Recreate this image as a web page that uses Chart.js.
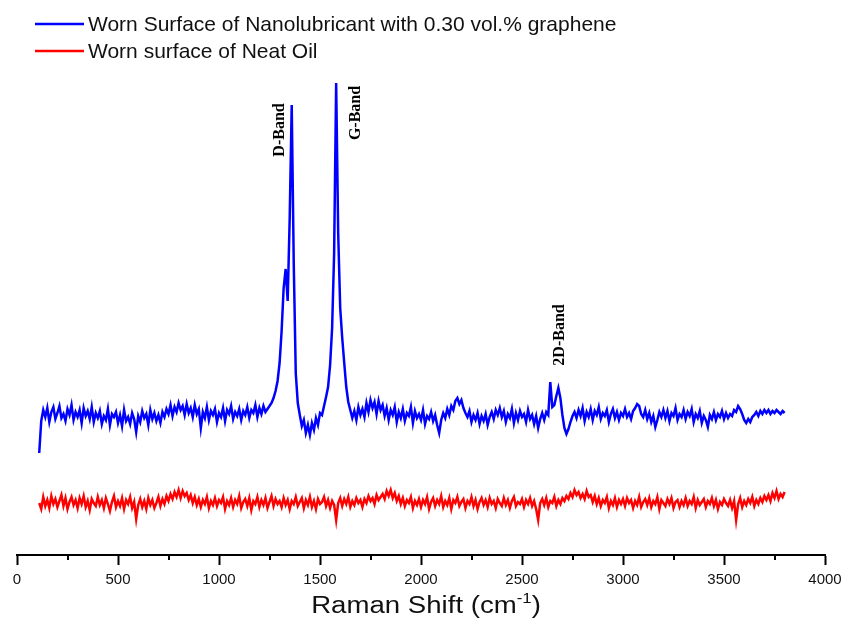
<!DOCTYPE html>
<html>
<head>
<meta charset="utf-8">
<title>Raman spectra</title>
<script src="https://cdn.jsdelivr.net/npm/chart.js@4.4.0/dist/chart.umd.min.js"></script>
<style>
  html, body { margin: 0; padding: 0; background: #fff; }
  canvas { display: block; }
</style>
</head>
<body>
<canvas id="raman" width="843" height="621"></canvas>
<script>
// series names (legend)
const seriesNames = [
  "Worn Surface of Nanolubricant with 0.30 vol.% graphene",
  "Worn surface of Neat Oil"
];
const seriesColors = ["#0000ff", "#ff0000"];

// x axis
const axisMin = 0;
const axisMax = 4000;
const majorStep = 500;
const minorTicks = [250, 750, 1250, 1750, 2250, 2750, 3250, 3750];
const axisTitle = "Raman Shift (cm";
const axisTitleSup = "-1";

// band annotations
const bandLabels = ["D-Band", "G-Band", "2D-Band"];
const bandShift = [1302, 1678, 2688];
const bandHeight = [423, 440, 218];

// Raman shift grid (cm-1) shared by both spectra
const ramanShift = [
  110, 120, 130, 140, 150, 160, 170, 180, 190, 200,
  210, 220, 230, 240, 250, 260, 270, 280, 290, 300,
  310, 320, 330, 340, 350, 360, 370, 380, 390, 400,
  410, 420, 430, 440, 450, 460, 470, 480, 490, 500,
  510, 520, 530, 540, 550, 560, 570, 580, 590, 600,
  610, 620, 630, 640, 650, 660, 670, 680, 690, 700,
  710, 720, 730, 740, 750, 760, 770, 780, 790, 800,
  810, 820, 830, 840, 850, 860, 870, 880, 890, 900,
  910, 920, 930, 940, 950, 960, 970, 980, 990, 1000,
  1010, 1020, 1030, 1040, 1050, 1060, 1070, 1080, 1090, 1100,
  1110, 1120, 1130, 1140, 1150, 1160, 1170, 1180, 1190, 1200,
  1210, 1220, 1230, 1240, 1250, 1260, 1270, 1280, 1290, 1300,
  1310, 1320, 1330, 1340, 1350, 1360, 1370, 1380, 1390, 1400,
  1410, 1420, 1430, 1440, 1450, 1460, 1470, 1480, 1490, 1500,
  1510, 1520, 1530, 1540, 1550, 1560, 1570, 1580, 1590, 1600,
  1610, 1620, 1630, 1640, 1650, 1660, 1670, 1680, 1690, 1700,
  1710, 1720, 1730, 1740, 1750, 1760, 1770, 1780, 1790, 1800,
  1810, 1820, 1830, 1840, 1850, 1860, 1870, 1880, 1890, 1900,
  1910, 1920, 1930, 1940, 1950, 1960, 1970, 1980, 1990, 2000,
  2010, 2020, 2030, 2040, 2050, 2060, 2070, 2080, 2090, 2100,
  2110, 2120, 2130, 2140, 2150, 2160, 2170, 2180, 2190, 2200,
  2210, 2220, 2230, 2240, 2250, 2260, 2270, 2280, 2290, 2300,
  2310, 2320, 2330, 2340, 2350, 2360, 2370, 2380, 2390, 2400,
  2410, 2420, 2430, 2440, 2450, 2460, 2470, 2480, 2490, 2500,
  2510, 2520, 2530, 2540, 2550, 2560, 2570, 2580, 2590, 2600,
  2610, 2620, 2630, 2640, 2650, 2660, 2670, 2680, 2690, 2700,
  2710, 2720, 2730, 2740, 2750, 2760, 2770, 2780, 2790, 2800,
  2810, 2820, 2830, 2840, 2850, 2860, 2870, 2880, 2890, 2900,
  2910, 2920, 2930, 2940, 2950, 2960, 2970, 2980, 2990, 3000,
  3010, 3020, 3030, 3040, 3050, 3060, 3070, 3080, 3090, 3100,
  3110, 3120, 3130, 3140, 3150, 3160, 3170, 3180, 3190, 3200,
  3210, 3220, 3230, 3240, 3250, 3260, 3270, 3280, 3290, 3300,
  3310, 3320, 3330, 3340, 3350, 3360, 3370, 3380, 3390, 3400,
  3410, 3420, 3430, 3440, 3450, 3460, 3470, 3480, 3490, 3500,
  3510, 3520, 3530, 3540, 3550, 3560, 3570, 3580, 3590, 3600,
  3610, 3620, 3630, 3640, 3650, 3660, 3670, 3680, 3690, 3700,
  3710, 3720, 3730, 3740, 3750, 3760, 3770, 3780, 3790, 3800
];

// worn surface with 0.30 vol.% graphene (arbitrary units)
const grapheneIntensity = [
  100, 132, 143, 136, 145, 131, 141, 146, 134, 140,
  147, 135, 139, 132, 144, 138, 148, 133, 141, 136,
  143, 130, 145, 137, 142, 134, 146, 131, 140, 135,
  142, 129, 137, 133, 144, 128, 139, 136, 141, 130,
  138, 127, 143, 132, 136, 129, 140, 134, 121, 137,
  131, 142, 135, 139, 128, 143, 134, 140, 132, 138,
  130, 141, 136, 144, 139, 148, 137, 146, 141, 150,
  143, 147, 138, 149, 140, 145, 136, 148, 139, 144,
  125, 141, 135, 146, 133, 142, 138, 144, 131, 140,
  136, 145, 132, 143, 139, 147, 134, 141, 137, 144,
  133, 142, 138, 146, 135, 143, 140, 148, 136, 145,
  139, 147, 141, 144, 147, 150, 155, 162, 172, 190,
  222, 265, 284, 252, 335, 448, 290, 180, 150, 138,
  127, 133, 120, 128, 118, 130, 123, 135, 128, 140,
  138, 147, 156, 166, 188, 225, 300, 470, 320, 245,
  215, 190, 166, 151, 143, 135, 142, 133, 146, 138,
  144, 136, 150, 141, 153, 145, 151, 139, 152, 143,
  148, 137, 145, 133, 143, 138, 146, 131, 141, 135,
  144, 132, 140, 137, 146, 130, 142, 135, 139, 133,
  143, 129, 137, 134, 141, 132, 138, 128, 120, 133,
  140, 135, 144, 138, 147, 143, 152, 155, 149, 153,
  145, 140, 136, 142, 131, 138, 133, 140, 129, 137,
  132, 139, 128, 136, 141, 134, 143, 138, 145, 136,
  142, 131, 139, 135, 144, 130, 140, 133, 142, 136,
  139, 131, 143, 134, 138, 129, 137, 125, 134, 140,
  133, 141, 138, 171, 146, 148, 157, 165, 155, 138,
  125, 119, 124, 131, 137, 141, 135, 143, 137, 145,
  132, 141, 136, 144, 133, 142, 138, 146, 134, 140,
  137, 143, 131, 139, 144, 135, 141, 133, 140, 137,
  144, 136, 140, 134, 142, 145, 149, 147, 139, 136,
  143, 134, 140, 131, 137, 126, 133, 141, 136, 143,
  135, 142, 132, 140, 137, 145, 133, 139, 136, 143,
  134, 141, 137, 144, 131, 139, 135, 142, 130, 137,
  133, 126, 138, 134, 141, 133, 139, 136, 142, 134,
  140, 135, 139, 137, 143, 141, 147, 144, 139, 133,
  130, 134, 131, 136, 138, 141, 137, 142, 139, 143,
  140, 143, 139, 142, 140, 143, 141, 139, 142, 140
];

// worn surface with neat oil
const neatOilIntensity = [
  50, 44, 56, 47, 53, 45, 57, 49, 54, 46,
  52, 58, 47, 55, 44, 51, 56, 48, 53, 45,
  55, 49, 57, 46, 52, 43, 54, 50, 47, 56,
  48, 53, 45, 55, 49, 42, 51, 57, 46, 52,
  47, 55, 44, 53, 49, 56, 45, 51, 34, 48,
  54, 46, 52, 44, 55, 48, 53, 45, 50, 56,
  47, 54, 49, 57, 52, 59, 54, 61, 56, 63,
  55, 62, 57, 60, 53, 58, 50, 56, 48, 54,
  46, 53, 49, 56, 45, 52, 48, 55, 47, 53,
  50, 56, 44, 52, 48, 55, 46, 53, 49, 57,
  45, 51, 54, 47, 55, 43, 52, 49, 56, 46,
  53, 48, 55, 45, 51, 57, 47, 54, 49, 52,
  46, 55, 48, 53, 44, 52, 49, 56, 47, 51,
  55, 45, 53, 48, 56, 46, 52, 44, 54, 49,
  51, 56, 47, 53, 45, 52, 48, 33, 50, 55,
  47, 54, 49, 56, 46, 52, 48, 55, 50, 53,
  46, 54, 50, 57, 52, 55, 49, 58, 53, 56,
  59, 54, 62, 57, 63, 55, 60, 52, 57, 49,
  55, 47, 53, 50, 56, 45, 52, 48, 54, 46,
  53, 49, 56, 44, 51, 55, 47, 53, 49, 57,
  46, 52, 48, 55, 44, 53, 50, 56, 47, 51,
  54, 45, 52, 49, 56, 47, 53, 44, 51, 55,
  48, 53, 46, 55, 49, 52, 45, 54, 50, 47,
  55, 48, 53, 45, 52, 56, 47, 51, 49, 54,
  46, 53, 49, 55, 47, 52, 44, 33, 50, 54,
  48, 55, 46, 52, 50, 56, 47, 53, 49, 55,
  52, 57, 54, 60, 56, 63, 58, 61, 55, 59,
  54, 62, 56, 58, 51, 57, 49, 55, 47, 53,
  50, 56, 45, 52, 48, 55, 46, 53, 49, 54,
  47, 55, 50, 53, 45, 52, 48, 56, 46, 51,
  54, 48, 55, 46, 52, 49, 56, 44, 53, 50,
  47, 54, 49, 55, 45, 51, 53, 46, 52, 48,
  55, 47, 52, 49, 56, 45, 53, 48, 51, 54,
  46, 52, 49, 55, 47, 53, 44, 51, 48, 54,
  50, 47, 53, 45, 52, 33, 49, 55, 46, 52,
  48, 54, 50, 56, 47, 53, 49, 55, 51, 57,
  53, 58, 52, 60, 55, 62, 54, 59, 56, 61
];

function toPoints(xs, ys) {
  return xs.map((x, i) => ({ x: x, y: ys[i] }));
}

// draws horizontally stretched text starting at x (left aligned)
function stretchText(ctx, text, x, y, sx) {
  ctx.save();
  ctx.translate(x, y);
  ctx.scale(sx, 1);
  ctx.fillText(text, 0, 0);
  ctx.restore();
}

// legend, band labels, minor ticks and the axis title with its superscript
const decorations = {
  id: "decorations",
  afterDraw(chart) {
    const ctx = chart.ctx;
    const xs = chart.scales.x;
    const ys = chart.scales.y;
    ctx.save();

    ctx.strokeStyle = "#000";
    ctx.lineWidth = 2;
    minorTicks.forEach(v => {
      const px = Math.round(xs.getPixelForValue(v));
      ctx.beginPath();
      ctx.moveTo(px, xs.top);
      ctx.lineTo(px, xs.top + 5);
      ctx.stroke();
    });

    // legend
    ctx.font = '21px "Liberation Sans", Arial, sans-serif';
    ctx.textAlign = "left";
    ctx.textBaseline = "middle";
    seriesNames.forEach((name, i) => {
      const ly = 24 + i * 27;
      ctx.strokeStyle = seriesColors[i];
      ctx.lineWidth = 2.5;
      ctx.beginPath();
      ctx.moveTo(35, ly);
      ctx.lineTo(84, ly);
      ctx.stroke();
      ctx.fillStyle = "#111";
      ctx.fillText(name, 88, ly + 1);
    });

    // band names
    ctx.font = 'bold 16px "Liberation Serif", "Times New Roman", serif';
    ctx.textAlign = "center";
    ctx.textBaseline = "middle";
    ctx.fillStyle = "#000";
    bandLabels.forEach((t, i) => {
      ctx.save();
      ctx.translate(xs.getPixelForValue(bandShift[i]), ys.getPixelForValue(bandHeight[i]));
      ctx.rotate(-Math.PI / 2);
      ctx.fillText(t, 0, 0);
      ctx.restore();
    });

    // axis title (the original is drawn a little wide)
    const sx = 1.2;
    const big = '23px "Liberation Sans", Arial, sans-serif';
    const small = '14px "Liberation Sans", Arial, sans-serif';
    ctx.textAlign = "left";
    ctx.textBaseline = "alphabetic";
    ctx.fillStyle = "#111";
    ctx.font = big;
    const w1 = ctx.measureText(axisTitle).width * sx;
    const w3 = ctx.measureText(")").width * sx;
    ctx.font = small;
    const w2 = ctx.measureText(axisTitleSup).width * sx;
    const cx = 426;
    let tx = cx - (w1 + w2 + w3) / 2;
    const base = 613;
    ctx.font = big;
    stretchText(ctx, axisTitle, tx, base, sx);
    tx += w1;
    ctx.font = small;
    stretchText(ctx, axisTitleSup, tx, base - 10, sx);
    tx += w2;
    ctx.font = big;
    stretchText(ctx, ")", tx, base, sx);

    ctx.restore();
  }
};

const chart = new Chart(document.getElementById("raman").getContext("2d"), {
  type: "line",
  data: {
    datasets: [
      {
        label: seriesNames[0],
        data: toPoints(ramanShift, grapheneIntensity),
        borderColor: seriesColors[0],
        borderWidth: 2.5,
        pointRadius: 0,
        fill: false,
        tension: 0
      },
      {
        label: seriesNames[1],
        data: toPoints(ramanShift, neatOilIntensity),
        borderColor: seriesColors[1],
        borderWidth: 2.5,
        pointRadius: 0,
        fill: false,
        tension: 0
      }
    ]
  },
  options: {
    responsive: false,
    animation: false,
    layout: { padding: { left: 17, right: 18, top: 75, bottom: 0 } },
    plugins: {
      legend: { display: false },
      tooltip: { enabled: false }
    },
    scales: {
      x: {
        type: "linear",
        min: axisMin,
        max: axisMax,
        afterFit(scale) {
          scale.height = 66;
          scale.paddingLeft = 0;
          scale.paddingRight = 0;
        },
        border: { display: true, color: "#000", width: 2 },
        grid: {
          drawOnChartArea: false,
          drawTicks: true,
          tickLength: 10,
          tickWidth: 2,
          tickColor: "#000"
        },
        ticks: {
          stepSize: majorStep,
          padding: 6,
          maxRotation: 0,
          color: "#111",
          font: { family: '"Liberation Sans", Arial, sans-serif', size: 15 },
          callback: value => String(value)
        }
      },
      y: {
        display: false,
        min: -2,
        max: 478
      }
    }
  },
  plugins: [decorations]
});
</script>
</body>
</html>
